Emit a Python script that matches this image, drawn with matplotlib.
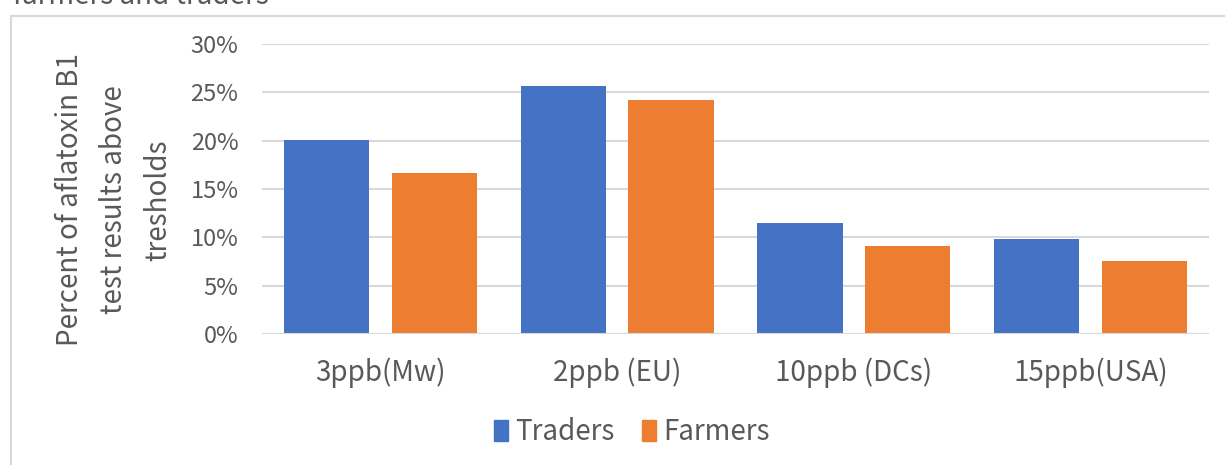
import matplotlib
matplotlib.use("Agg")
import matplotlib.pyplot as plt
from matplotlib.patches import Rectangle
from matplotlib.lines import Line2D
import numpy as np

categories = ["3ppb(Mw)", "2ppb (EU)", "10ppb (DCs)", "15ppb(USA)"]
traders = [0.201, 0.257, 0.115, 0.098]
farmers = [0.167, 0.242, 0.091, 0.076]
series_names = ["Traders", "Farmers"]
yticks = [0, 0.05, 0.10, 0.15, 0.20, 0.25, 0.30]
ytick_labels = ["0%", "5%", "10%", "15%", "20%", "25%", "30%"]

plt.rcParams['font.family'] = ['Noto Sans CJK JP', 'DejaVu Sans']
W, H = 1225, 465
fig = plt.figure(figsize=(W/100, H/100), dpi=100)
txt = "#595959"
grid = "#D9D9D9"
blue = "#4472C4"
orange = "#ED7D31"

# chart area border (cropped)
fig.add_artist(Line2D([11/W, 11/W], [0, 1-16/H], transform=fig.transFigure, color=grid, lw=1.5))
fig.add_artist(Line2D([11/W, 1], [1-16/H, 1-16/H], transform=fig.transFigure, color=grid, lw=1.5))
# cut-off title (partly above the cropped image)
fig.text(13/W, 1-4/H, "farmers and traders", fontsize=20, color=txt, ha='left', va='baseline')

ax = fig.add_axes([262/W, 1-334/H, (1209-262)/W, (334-44)/H])
x = np.arange(len(categories))
bw = 0.36
off = 0.228
ax.bar(x - off, traders, bw, color=blue, label=series_names[0], zorder=3)
ax.bar(x + off, farmers, bw, color=orange, label=series_names[1], zorder=3)
ax.set_xlim(-0.5, len(categories) - 0.5)
ax.set_ylim(0, 0.30)
ax.set_yticks(yticks)
ax.set_yticklabels(ytick_labels)
ax.set_xticks(x)
ax.set_xticklabels(categories)
ax.tick_params(axis='y', length=0, pad=17, labelsize=17, labelcolor=txt)
ax.tick_params(axis='x', length=0, pad=17, labelsize=20, labelcolor=txt)
for s in ax.spines.values():
    s.set_visible(False)
ax.grid(axis='y', color=grid, lw=1.5, zorder=0)
ax.axhline(0, color=grid, lw=1.5, zorder=4)

fig.text(114/W, 1-200/H, "Percent of aflatoxin B1\ntest results above\ntresholds", rotation=90,
         ha='center', va='center', multialignment='center', fontsize=20, color=txt, linespacing=1.62)

leg = fig.legend(handles=[Rectangle((0, 0), 1, 1, color=blue), Rectangle((0, 0), 1, 1, color=orange)],
                 labels=series_names, loc='center', bbox_to_anchor=(632/W, 1-432/H), ncol=2, frameon=False,
                 fontsize=20, handlelength=0.5, handleheight=0.8, handletextpad=0.25, columnspacing=1.0,
                 labelcolor=txt)

fig.savefig("out.png", dpi=100)
